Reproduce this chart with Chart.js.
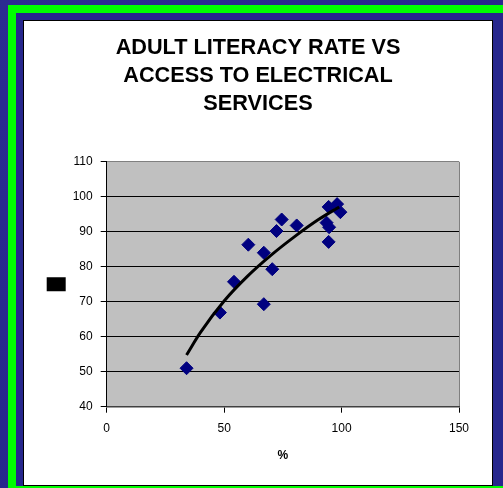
<!DOCTYPE html>
<html>
<head>
<meta charset="utf-8">
<script src="https://cdn.jsdelivr.net/npm/chart.js@4/dist/chart.umd.min.js"></script>
<style>
  html, body { margin: 0; padding: 0; }
  body { width: 503px; height: 488px; overflow: hidden; position: relative; background: linear-gradient(135deg, #2c2c92, #232388); }
  #green { position: absolute; left: 8px; top: 5px; width: 700px; height: 700px; background: #00ff00; }
  #navy { position: absolute; left: 16px; top: 13px; width: 700px; height: 473px; background: #27278d; }
  #white { position: absolute; left: 23px; top: 20px; width: 468px; height: 464px; background: #fff; border: 1px solid #000; }
  #wrap { position: absolute; left: 24px; top: 21px; width: 468px; height: 464px; }
</style>
</head>
<body>
<div id="green"></div>
<div id="navy"></div>
<div id="white"></div>
<div id="wrap"><canvas id="c" width="468" height="464"></canvas></div>
<script>
// Data
const titleLines = ["ADULT LITERACY RATE VS", "ACCESS TO ELECTRICAL", "SERVICES"];
const xAxisTitle = "%";
const accessPct = [34.0, 48.2, 54.2, 60.3, 66.9, 66.9, 70.5, 72.3, 74.5, 80.9, 94.5, 98.1, 99.5, 93.6, 94.7, 94.5];
const literacyPct = [51.0, 66.9, 75.7, 86.3, 84.0, 69.3, 79.3, 90.2, 93.5, 91.8, 97.1, 97.9, 95.6, 92.6, 91.3, 87.1];
const trendX = [34, 40, 50, 60, 70, 80, 90, 99];
const trendY = [54.8, 61.3, 70.2, 77.3, 83.3, 88.6, 93.4, 97.1];
const xTicks = [0, 50, 100, 150];
const yTicks = [40, 50, 60, 70, 80, 90, 100, 110];

const FONT = "'Liberation Sans', Arial, sans-serif";

const plotBg = {
  id: 'plotBg',
  beforeDraw(chart) {
    const a = chart.chartArea, ctx = chart.ctx;
    ctx.save();
    ctx.fillStyle = '#c0c0c0';
    ctx.fillRect(a.left, a.top, a.right - a.left, a.bottom - a.top);
    ctx.restore();
  }
};

new Chart(document.getElementById('c'), {
  type: 'scatter',
  data: {
    datasets: [
      {
        label: 'Literacy',
        data: accessPct.map((x, i) => ({ x: x, y: literacyPct[i] })),
        pointStyle: 'rectRot',
        pointRadius: 6.5,
        pointHoverRadius: 6.5,
        backgroundColor: '#000080',
        borderColor: '#000080',
        borderWidth: 1,
        showLine: false,
        order: 1
      },
      {
        label: '',
        type: 'line',
        data: trendX.map((x, i) => ({ x: x, y: trendY[i] })),
        borderColor: '#000',
        backgroundColor: '#000',
        borderWidth: 3,
        pointRadius: 0,
        cubicInterpolationMode: 'monotone',
        fill: false,
        order: 0
      }
    ]
  },
  options: {
    responsive: false,
    animation: false,
    events: [],
    layout: { padding: { left: 12.7, right: 12.7, top: 0, bottom: 0 } },
    plugins: {
      title: {
        display: true,
        text: titleLines,
        color: '#000',
        font: { family: FONT, size: 21.7, weight: 'bold', lineHeight: 1.27 },
        padding: { top: 13.7, bottom: 44.4 }
      },
      legend: {
        display: true,
        position: 'left',
        fullSize: false,
        maxWidth: 30,
        labels: {
          boxWidth: 19,
          boxHeight: 14,
          padding: 10,
          font: { size: 1 },
          generateLabels: () => [{ text: '', fillStyle: '#000', strokeStyle: '#000', lineWidth: 0, hidden: false, datasetIndex: 1 }]
        }
      },
      tooltip: { enabled: false }
    },
    scales: {
      x: {
        type: 'linear',
        min: 0, max: 150,
        afterBuildTicks: (s) => { s.ticks = xTicks.map(v => ({ value: v })); },
        afterFit: (s) => { s.height = 78.3; },
        ticks: { color: '#000', font: { family: FONT, size: 12 }, padding: 9 },
        grid: {
          color: (ctx) => ctx.tick && ctx.tick.value === 150 ? '#808080' : 'rgba(0,0,0,0)',
          tickColor: '#000',
          tickLength: 6,
          lineWidth: 1
        },
        border: { color: '#404040', width: 1.5 },
        title: {
          display: true,
          text: xAxisTitle,
          color: '#000',
          font: { family: FONT, size: 12, weight: 'bold', lineHeight: 1.2 },
          padding: { top: 12.2, bottom: 22.3 }
        }
      },
      y: {
        type: 'linear',
        min: 40, max: 110,
        afterBuildTicks: (s) => { s.ticks = yTicks.map(v => ({ value: v })); },
        afterFit: (s) => { s.width = 40; },
        ticks: { color: '#000', font: { family: FONT, size: 12 }, padding: 8 },
        grid: {
          color: (ctx) => ctx.tick && ctx.tick.value === 110 ? '#808080' : (ctx.tick && ctx.tick.value === 40 ? 'rgba(0,0,0,0)' : '#000'),
          tickColor: '#000',
          tickLength: 6,
          lineWidth: 1
        },
        border: { color: '#000', width: 1 }
      },
      ySpace: {
        type: 'linear',
        position: 'right',
        display: true,
        min: 40, max: 110,
        afterFit: (s) => { s.width = 20.3; },
        ticks: { display: false },
        grid: { display: false, drawTicks: false },
        border: { display: false }
      }
    }
  },
  plugins: [plotBg]
});
</script>
</body>
</html>
